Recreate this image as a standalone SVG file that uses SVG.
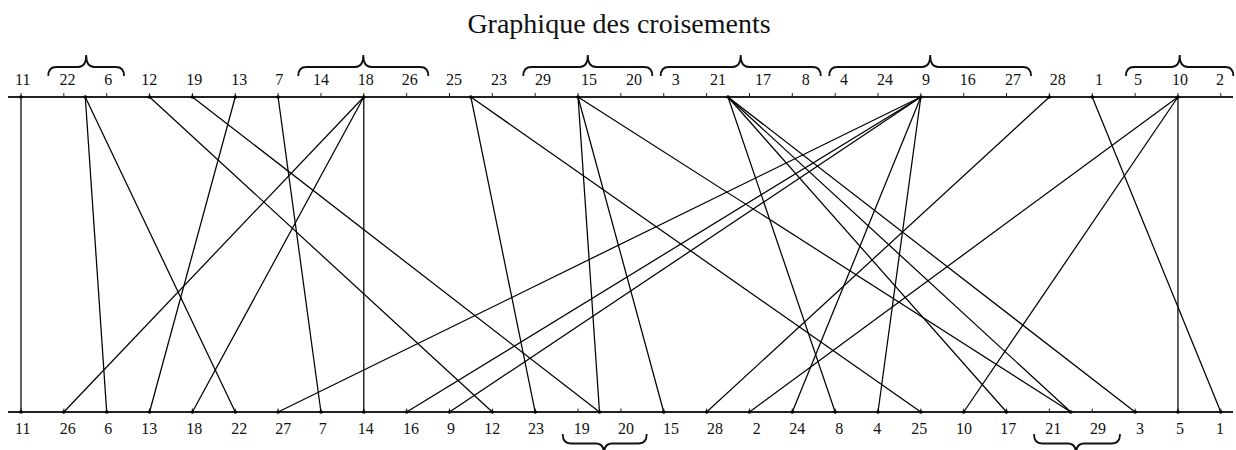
<svg xmlns="http://www.w3.org/2000/svg" width="1236" height="450" viewBox="0 0 1236 450">
<style>
text{font-family:"Liberation Serif","Times New Roman",serif;fill:#111}
.lbl{font-size:16px;text-anchor:middle}
.title{font-size:28px;text-anchor:middle}
.axis{stroke:#222;stroke-width:2;fill:none}
.tick{stroke:#222;stroke-width:1;fill:none}
.brace{stroke:#111;stroke-width:1.8;fill:none}
.conn line{stroke:#000;stroke-width:1.25}
.dot{fill:#000}
</style>
<rect width="1236" height="450" fill="#fff"/>
<text class="title" x="619" y="33">Graphique des croisements</text>

<g id="axes">
<path class="axis" d="M8,97H1233M8,412H1233"/>
<path class="tick" d="M21,93V97M63.85,93V97M106.7,93V97M149.55,93V97M192.4,93V97M235.25,93V97M278.1,93V97M320.95,93V97M363.8,93V97M406.65,93V97M449.5,93V97M492.35,93V97M535.2,93V97M578.05,93V97M620.9,93V97M663.75,93V97M706.6,93V97M749.45,93V97M792.3,93V97M835.15,93V97M878,93V97M920.85,93V97M963.7,93V97M1006.55,93V97M1049.4,93V97M1092.25,93V97M1135.1,93V97M1177.95,93V97M1220.8,93V97"/>
<path class="tick" d="M21,408.5V412M63.85,408.5V412M106.7,408.5V412M149.55,408.5V412M192.4,408.5V412M235.25,408.5V412M278.1,408.5V412M320.95,408.5V412M363.8,408.5V412M406.65,408.5V412M449.5,408.5V412M492.35,408.5V412M535.2,408.5V412M578.05,408.5V412M620.9,408.5V412M663.75,408.5V412M706.6,408.5V412M749.45,408.5V412M792.3,408.5V412M835.15,408.5V412M878,408.5V412M920.85,408.5V412M963.7,408.5V412M1006.55,408.5V412M1049.4,408.5V412M1092.25,408.5V412M1135.1,408.5V412M1177.95,408.5V412M1220.8,408.5V412"/>
</g>

<g id="brackets">
<path class="brace" d="M48.3,76 Q48.3,67 56.3,67 L78.2,67 Q86.2,67 86.2,55 Q86.2,67 94.2,67 L116,67 Q124,67 124,76"/>
<path class="brace" d="M298.3,76 Q298.3,67 306.3,67 L355.3,67 Q363.3,67 363.3,55 Q363.3,67 371.3,67 L420.3,67 Q428.3,67 428.3,76"/>
<path class="brace" d="M523.3,76 Q523.3,67 531.3,67 L579.8,67 Q587.8,67 587.8,55 Q587.8,67 595.8,67 L644.3,67 Q652.3,67 652.3,76"/>
<path class="brace" d="M660.7,76 Q660.7,67 668.7,67 L732.7,67 Q740.7,67 740.7,55 Q740.7,67 748.7,67 L812.7,67 Q820.7,67 820.7,76"/>
<path class="brace" d="M829.3,76 Q829.3,67 837.3,67 L922.2,67 Q930.2,67 930.2,55 Q930.2,67 938.2,67 L1023,67 Q1031,67 1031,76"/>
<path class="brace" d="M1126,76 Q1126,67 1134,67 L1171.7,67 Q1179.7,67 1179.7,55 Q1179.7,67 1187.7,67 L1225.3,67 Q1233.3,67 1233.3,76"/>
<path class="brace" d="M562.7,434 Q562.7,443.5 570.7,443.5 L596,443.5 Q604,443.5 604,454 Q604,443.5 612,443.5 L638.7,443.5 Q646.7,443.5 646.7,434"/>
<path class="brace" d="M1034,434 Q1034,443.5 1042,443.5 L1068,443.5 Q1076,443.5 1076,454 Q1076,443.5 1084,443.5 L1112,443.5 Q1120,443.5 1120,434"/>
</g>

<g class="conn" id="connectors">
<line x1="21" y1="97" x2="21" y2="412"/>
<line x1="85.28" y1="97" x2="235.25" y2="412"/>
<line x1="85.28" y1="97" x2="106.7" y2="412"/>
<line x1="149.55" y1="97" x2="492.35" y2="412"/>
<line x1="192.4" y1="97" x2="599.5" y2="412"/>
<line x1="235.25" y1="97" x2="149.55" y2="412"/>
<line x1="278.1" y1="97" x2="320.95" y2="412"/>
<line x1="363.8" y1="97" x2="363.8" y2="412"/>
<line x1="363.8" y1="97" x2="192.4" y2="412"/>
<line x1="363.8" y1="97" x2="63.85" y2="412"/>
<line x1="470.9" y1="97" x2="920.85" y2="412"/>
<line x1="470.9" y1="97" x2="535.2" y2="412"/>
<line x1="578.05" y1="97" x2="1070.8" y2="412"/>
<line x1="578.05" y1="97" x2="663.75" y2="412"/>
<line x1="578.05" y1="97" x2="599.5" y2="412"/>
<line x1="728" y1="97" x2="1135.1" y2="412"/>
<line x1="728" y1="97" x2="1070.8" y2="412"/>
<line x1="728" y1="97" x2="1006.55" y2="412"/>
<line x1="728" y1="97" x2="835.15" y2="412"/>
<line x1="920.85" y1="97" x2="878" y2="412"/>
<line x1="920.85" y1="97" x2="792.3" y2="412"/>
<line x1="920.85" y1="97" x2="449.5" y2="412"/>
<line x1="920.85" y1="97" x2="406.65" y2="412"/>
<line x1="920.85" y1="97" x2="278.1" y2="412"/>
<line x1="1049.4" y1="97" x2="706.6" y2="412"/>
<line x1="1092.25" y1="97" x2="1220.8" y2="412"/>
<line x1="1177.95" y1="97" x2="1177.95" y2="412"/>
<line x1="1177.95" y1="97" x2="963.7" y2="412"/>
<line x1="1177.95" y1="97" x2="749.45" y2="412"/>
</g>

<g id="dots">
<circle class="dot" cx="21" cy="97" r="1.8"/><circle class="dot" cx="85.28" cy="97" r="1.8"/><circle class="dot" cx="149.55" cy="97" r="1.8"/><circle class="dot" cx="192.4" cy="97" r="1.8"/><circle class="dot" cx="235.25" cy="97" r="1.8"/><circle class="dot" cx="278.1" cy="97" r="1.8"/><circle class="dot" cx="363.8" cy="97" r="1.8"/><circle class="dot" cx="470.9" cy="97" r="1.8"/><circle class="dot" cx="578.05" cy="97" r="1.8"/><circle class="dot" cx="728" cy="97" r="1.8"/><circle class="dot" cx="920.85" cy="97" r="1.8"/><circle class="dot" cx="1049.4" cy="97" r="1.8"/><circle class="dot" cx="1092.25" cy="97" r="1.8"/><circle class="dot" cx="1177.95" cy="97" r="1.8"/>
<circle class="dot" cx="21" cy="412" r="1.8"/><circle class="dot" cx="63.85" cy="412" r="1.8"/><circle class="dot" cx="106.7" cy="412" r="1.8"/><circle class="dot" cx="149.55" cy="412" r="1.8"/><circle class="dot" cx="192.4" cy="412" r="1.8"/><circle class="dot" cx="235.25" cy="412" r="1.8"/><circle class="dot" cx="278.1" cy="412" r="1.8"/><circle class="dot" cx="320.95" cy="412" r="1.8"/><circle class="dot" cx="363.8" cy="412" r="1.8"/><circle class="dot" cx="406.65" cy="412" r="1.8"/><circle class="dot" cx="449.5" cy="412" r="1.8"/><circle class="dot" cx="492.35" cy="412" r="1.8"/><circle class="dot" cx="535.2" cy="412" r="1.8"/><circle class="dot" cx="599.5" cy="412" r="1.8"/><circle class="dot" cx="663.75" cy="412" r="1.8"/><circle class="dot" cx="706.6" cy="412" r="1.8"/><circle class="dot" cx="749.45" cy="412" r="1.8"/><circle class="dot" cx="792.3" cy="412" r="1.8"/><circle class="dot" cx="835.15" cy="412" r="1.8"/><circle class="dot" cx="878" cy="412" r="1.8"/><circle class="dot" cx="920.85" cy="412" r="1.8"/><circle class="dot" cx="963.7" cy="412" r="1.8"/><circle class="dot" cx="1006.55" cy="412" r="1.8"/><circle class="dot" cx="1070.8" cy="412" r="1.8"/><circle class="dot" cx="1135.1" cy="412" r="1.8"/><circle class="dot" cx="1177.95" cy="412" r="1.8"/><circle class="dot" cx="1220.8" cy="412" r="1.8"/>
</g>

<g id="top-labels">
<g id="top-11"><text class="lbl" x="22.7" y="85">11</text></g>
<g id="top-22"><text class="lbl" x="67.5" y="85">22</text></g>
<g id="top-6"><text class="lbl" x="108.2" y="85">6</text></g>
<g id="top-12"><text class="lbl" x="149.3" y="85">12</text></g>
<g id="top-19"><text class="lbl" x="194.3" y="85">19</text></g>
<g id="top-13"><text class="lbl" x="239.3" y="85">13</text></g>
<g id="top-7"><text class="lbl" x="279.3" y="85">7</text></g>
<g id="top-14"><text class="lbl" x="321" y="85">14</text></g>
<g id="top-18"><text class="lbl" x="365.8" y="85">18</text></g>
<g id="top-26"><text class="lbl" x="409.7" y="85">26</text></g>
<g id="top-25"><text class="lbl" x="454" y="85">25</text></g>
<g id="top-23"><text class="lbl" x="499" y="85">23</text></g>
<g id="top-29"><text class="lbl" x="543" y="85">29</text></g>
<g id="top-15"><text class="lbl" x="589" y="85">15</text></g>
<g id="top-20"><text class="lbl" x="634" y="85">20</text></g>
<g id="top-3"><text class="lbl" x="675.7" y="85">3</text></g>
<g id="top-21"><text class="lbl" x="718" y="85">21</text></g>
<g id="top-17"><text class="lbl" x="763" y="85">17</text></g>
<g id="top-8"><text class="lbl" x="805.7" y="85">8</text></g>
<g id="top-4"><text class="lbl" x="844" y="85">4</text></g>
<g id="top-24"><text class="lbl" x="885" y="85">24</text></g>
<g id="top-9"><text class="lbl" x="926" y="85">9</text></g>
<g id="top-16"><text class="lbl" x="967.7" y="85">16</text></g>
<g id="top-27"><text class="lbl" x="1013" y="85">27</text></g>
<g id="top-28"><text class="lbl" x="1057.7" y="85">28</text></g>
<g id="top-1"><text class="lbl" x="1099" y="85">1</text></g>
<g id="top-5"><text class="lbl" x="1138" y="85">5</text></g>
<g id="top-10"><text class="lbl" x="1180" y="85">10</text></g>
<g id="top-2"><text class="lbl" x="1220" y="85">2</text></g>
</g>

<g id="bottom-labels">
<g id="bot-11"><text class="lbl" x="22.7" y="434">11</text></g>
<g id="bot-26"><text class="lbl" x="67.7" y="434">26</text></g>
<g id="bot-6"><text class="lbl" x="108.3" y="434">6</text></g>
<g id="bot-13"><text class="lbl" x="149.3" y="434">13</text></g>
<g id="bot-18"><text class="lbl" x="194.3" y="434">18</text></g>
<g id="bot-22"><text class="lbl" x="239.3" y="434">22</text></g>
<g id="bot-27"><text class="lbl" x="283.3" y="434">27</text></g>
<g id="bot-7"><text class="lbl" x="322.7" y="434">7</text></g>
<g id="bot-14"><text class="lbl" x="365.7" y="434">14</text></g>
<g id="bot-16"><text class="lbl" x="411" y="434">16</text></g>
<g id="bot-9"><text class="lbl" x="451" y="434">9</text></g>
<g id="bot-12"><text class="lbl" x="492.3" y="434">12</text></g>
<g id="bot-23"><text class="lbl" x="536" y="434">23</text></g>
<g id="bot-19"><text class="lbl" x="581.7" y="434">19</text></g>
<g id="bot-20"><text class="lbl" x="626" y="434">20</text></g>
<g id="bot-15"><text class="lbl" x="671" y="434">15</text></g>
<g id="bot-28"><text class="lbl" x="715" y="434">28</text></g>
<g id="bot-2"><text class="lbl" x="756.7" y="434">2</text></g>
<g id="bot-24"><text class="lbl" x="797.3" y="434">24</text></g>
<g id="bot-8"><text class="lbl" x="839.3" y="434">8</text></g>
<g id="bot-4"><text class="lbl" x="877.3" y="434">4</text></g>
<g id="bot-25"><text class="lbl" x="919.3" y="434">25</text></g>
<g id="bot-10"><text class="lbl" x="964" y="434">10</text></g>
<g id="bot-17"><text class="lbl" x="1008.3" y="434">17</text></g>
<g id="bot-21"><text class="lbl" x="1053.3" y="434">21</text></g>
<g id="bot-29"><text class="lbl" x="1098" y="434">29</text></g>
<g id="bot-3"><text class="lbl" x="1140" y="434">3</text></g>
<g id="bot-5"><text class="lbl" x="1180" y="434">5</text></g>
<g id="bot-1"><text class="lbl" x="1220" y="434">1</text></g>
</g>
</svg>
